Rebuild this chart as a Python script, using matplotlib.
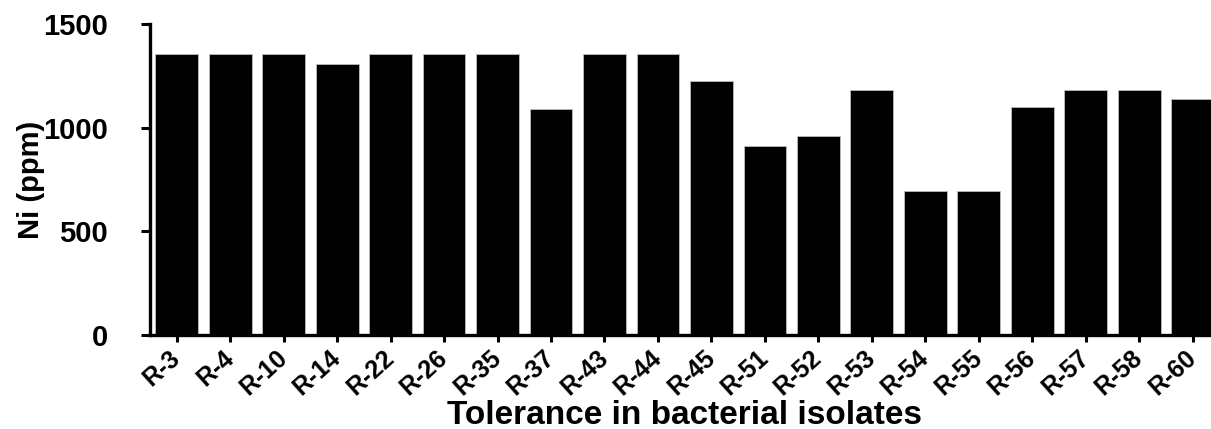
import matplotlib
matplotlib.use('Agg')
import matplotlib.pyplot as plt
import numpy as np

isolates = ['R-3', 'R-4', 'R-10', 'R-14', 'R-22', 'R-26', 'R-35', 'R-37', 'R-43', 'R-44',
            'R-45', 'R-51', 'R-52', 'R-53', 'R-54', 'R-55', 'R-56', 'R-57', 'R-58', 'R-60']
ni_ppm = [1355, 1355, 1355, 1305, 1355, 1355, 1355, 1090, 1355, 1355,
          1225, 910, 960, 1180, 695, 695, 1100, 1180, 1180, 1140]
y_ticks = [0, 500, 1000, 1500]

plt.rcParams['font.family'] = ['Liberation Sans', 'DejaVu Sans']
plt.rcParams['font.weight'] = 'bold'

W, H = 1211, 429
fig = plt.figure(figsize=(W / 100, H / 100), dpi=100)
# axes box in pixels: left spine x=150, zero line y=335, top (1500) y=24
x0 = np.arange(len(isolates))
left_px, bot_px, top_px = 150, 335, 24
pitch = 53.47
right_px = left_px + 20 * pitch
ax = fig.add_axes([left_px / W, 1 - bot_px / H, (right_px - left_px) / W, (bot_px - top_px) / H])

ax.bar(x0, ni_ppm, width=0.8, color='black', edgecolor='#bbbbbb', linewidth=0.6)

ax.set_xlim(-0.5, 19.5)
ax.set_ylim(0, 1500)
ax.set_yticks(y_ticks)
ax.set_xticks(x0)
ax.set_xticklabels(isolates, rotation=42, ha='right', va='center', rotation_mode='anchor',
                   fontsize=18, fontweight='bold')
for lab in ax.get_yticklabels():
    lab.set_fontsize(21)
    lab.set_fontweight('bold')

for s in ['top', 'right']:
    ax.spines[s].set_visible(False)
for s in ['left', 'bottom']:
    ax.spines[s].set_linewidth(2.4)
ax.tick_params(axis='y', length=6.5, width=2.2, pad=24)
ax.tick_params(axis='x', length=5, width=2.2, pad=9)

ax.set_xlabel('Tolerance in bacterial isolates', fontsize=24, fontweight='bold', va='baseline')
ax.xaxis.set_label_coords(0.5, -0.285)
ax.set_ylabel('Ni (ppm)', fontsize=21, fontweight='bold')
ax.yaxis.set_label_coords(-0.098, 0.5)

fig.savefig('out.png', dpi=100)
